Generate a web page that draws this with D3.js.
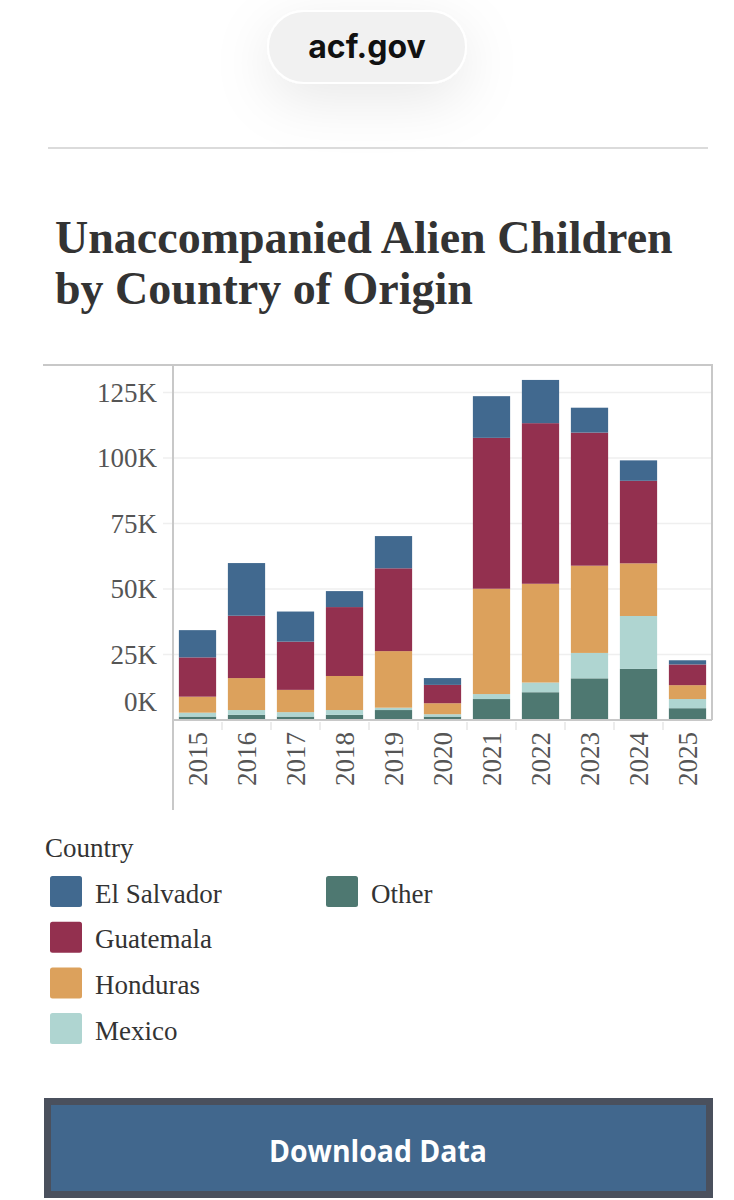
<!DOCTYPE html>
<html>
<head>
<meta charset="utf-8">
<script src="https://cdn.jsdelivr.net/npm/d3@7"></script>
<style>
  html, body { margin: 0; padding: 0; background: #fff; }
  svg { display: block; }
</style>
</head>
<body>
<div id="chart"></div>
<script>
// values (children per fiscal year)
var years = ['2015', '2016', '2017', '2018', '2019', '2020', '2021', '2022', '2023', '2024', '2025'];
var countries = ['El Salvador', 'Guatemala', 'Honduras', 'Mexico', 'Other'];
var elSalvador = [10400, 20100, 11500, 6100, 12300, 2600, 15900, 16500, 9500, 7800, 1600];
var guatemala  = [15000, 23800, 18400, 26300, 31600, 7000, 57600, 61300, 50800, 31500, 7900];
var honduras   = [6100, 12200, 8500, 13000, 21600, 4200, 40200, 37700, 33300, 20100, 5300];
var mexico     = [1500, 1800, 1700, 1800, 900, 900, 1900, 3700, 9700, 20200, 3500];
var other      = [1300, 2000, 1300, 2000, 3800, 1300, 8000, 10600, 15900, 19500, 4500];
var yTicks = [0, 25000, 50000, 75000, 100000, 125000];
var colors = ['#41698f', '#93304f', '#dca15c', '#afd5d1', '#4e7871'];

var W = 734, H = 1200;
var svg = d3.select('#chart').append('svg')
  .attr('width', W).attr('height', H);

var defs = svg.append('defs');
var sh = defs.append('filter').attr('id', 'shadow')
  .attr('x', '-80%').attr('y', '-100%').attr('width', '260%').attr('height', '340%');
sh.append('feDropShadow').attr('dx', 0).attr('dy', 16).attr('stdDeviation', 28)
  .attr('flood-color', '#000').attr('flood-opacity', 0.09);

// site pill on top
svg.append('rect')
  .attr('x', 268).attr('y', 11).attr('width', 198).attr('height', 72).attr('rx', 36)
  .attr('fill', '#f1f1f1').attr('stroke', '#fff').attr('stroke-width', 2)
  .attr('filter', 'url(#shadow)');
svg.append('text')
  .attr('x', 367).attr('y', 58).attr('text-anchor', 'middle')
  .style('font-family', 'Inter, Roboto, sans-serif').style('font-weight', 700)
  .style('font-size', '32px').attr('fill', '#111')
  .text('acf.gov');

svg.append('line')
  .attr('x1', 48).attr('x2', 708).attr('y1', 148).attr('y2', 148)
  .attr('stroke', '#cfcfcf').attr('stroke-width', 1.5);

// title
var title = svg.append('text')
  .style('font-family', '"Liberation Serif", "Times New Roman", serif')
  .style('font-weight', 700).style('font-size', '46px').attr('fill', '#333');
title.append('tspan').attr('x', 55).attr('y', 253).text('Unaccompanied Alien Children');
title.append('tspan').attr('x', 55).attr('y', 304).text('by Country of Origin');

// chart
var plotL = 173, plotR = 712, plotT = 365, plotB = 720;

var table = years.map(function(yr, i) {
  return {
    year: yr,
    'El Salvador': elSalvador[i],
    'Guatemala': guatemala[i],
    'Honduras': honduras[i],
    'Mexico': mexico[i],
    'Other': other[i]
  };
});

// stack from the bottom: Other, Mexico, Honduras, Guatemala, El Salvador
var stackOrder = countries.slice().reverse();
var series = d3.stack().keys(stackOrder)(table);

var x = d3.scaleBand().domain(years).range([plotL, plotR])
  .paddingInner(0.24).paddingOuter(0.12);
var y = d3.scaleLinear().domain([0, 135500]).range([plotB, plotT]);
var color = d3.scaleOrdinal().domain(countries).range(colors);

var serif = '"Liberation Serif", "Times New Roman", serif';

// gridlines
svg.append('g').selectAll('line').data(yTicks.slice(1)).enter().append('line')
  .attr('x1', plotL - 10).attr('x2', plotR)
  .attr('y1', function(d) { return y(d); }).attr('y2', function(d) { return y(d); })
  .attr('stroke', '#efefef').attr('stroke-width', 1.5);

// y labels (Tableau pushes the 0K label up inside the pane)
svg.append('g').selectAll('text').data(yTicks).enter().append('text')
  .attr('x', 157)
  .attr('y', function(d) { return d === 0 ? y(d) - 18 : y(d); })
  .attr('dy', '0.35em')
  .attr('text-anchor', 'end')
  .style('font-family', serif).style('font-size', '27px').attr('fill', '#555')
  .text(function(d) { return (d / 1000) + 'K'; });

// bars
svg.append('g').selectAll('g').data(series).enter().append('g')
  .attr('fill', function(d) { return color(d.key); })
  .selectAll('rect').data(function(d) { return d; }).enter().append('rect')
    .attr('x', function(d) { return x(d.data.year); })
    .attr('width', x.bandwidth())
    .attr('y', function(d) { return y(d[1]); })
    .attr('height', function(d) { return y(d[0]) - y(d[1]); });

// frame / axes
var frame = svg.append('g').attr('stroke', '#c8c8c8').attr('stroke-width', 2).attr('fill', 'none');
frame.append('line').attr('x1', 43).attr('x2', plotR + 1).attr('y1', plotT).attr('y2', plotT);
frame.append('line').attr('x1', plotR).attr('x2', plotR).attr('y1', plotT).attr('y2', plotB);
frame.append('line').attr('x1', plotL).attr('x2', plotR).attr('y1', plotB).attr('y2', plotB);
frame.append('line').attr('x1', plotL).attr('x2', plotL).attr('y1', plotT).attr('y2', 810);

// band separators under the axis
var step = x.step();
svg.append('g').selectAll('line').data(years.slice(1)).enter().append('line')
  .attr('x1', function(d) { return x(d) - step * x.paddingInner() / 2; })
  .attr('x2', function(d) { return x(d) - step * x.paddingInner() / 2; })
  .attr('y1', plotB + 2).attr('y2', plotB + 10)
  .attr('stroke', '#e6e6e6').attr('stroke-width', 1.5);

// x labels, rotated
svg.append('g').selectAll('text').data(years).enter().append('text')
  .attr('transform', function(d) {
    return 'translate(' + (x(d) + x.bandwidth() / 2 + 9) + ',732) rotate(-90)';
  })
  .attr('text-anchor', 'end')
  .style('font-family', serif).style('font-size', '27px').attr('fill', '#555')
  .text(function(d) { return d; });

// legend
svg.append('text').attr('x', 45).attr('y', 857)
  .style('font-family', serif).style('font-size', '27px').attr('fill', '#333')
  .text('Country');

var legend = svg.append('g').selectAll('g').data(countries).enter().append('g')
  .attr('transform', function(d, i) {
    var col = i < 4 ? 0 : 1, row = i < 4 ? i : i - 4;
    return 'translate(' + (50 + col * 276) + ',' + (876 + row * 45.7) + ')';
  });
legend.append('rect')
  .attr('width', 32).attr('height', 31).attr('rx', 2.5)
  .attr('fill', function(d) { return color(d); });
legend.append('text')
  .attr('x', 45).attr('y', 26.5)
  .style('font-family', serif).style('font-size', '27px').attr('fill', '#333')
  .text(function(d) { return d; });

// download button
svg.append('rect')
  .attr('x', 47.5).attr('y', 1101.5).attr('width', 662).attr('height', 93)
  .attr('fill', '#41678d').attr('stroke', '#4a505d').attr('stroke-width', 7);
svg.append('text')
  .attr('x', 378).attr('y', 1162).attr('text-anchor', 'middle')
  .attr('textLength', 218).attr('lengthAdjust', 'spacingAndGlyphs')
  .style('font-family', '"Open Sans", sans-serif').style('font-weight', 700)
  .style('font-size', '30px').attr('fill', '#fff')
  .text('Download Data');
</script>
</body>
</html>
